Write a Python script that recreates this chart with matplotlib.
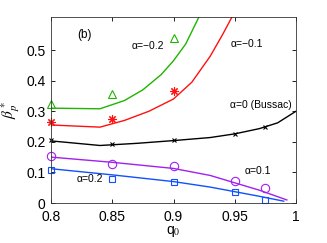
import matplotlib
matplotlib.use('Agg')
import matplotlib.pyplot as plt

# curves (solid lines)
q_green = [0.8, 0.84, 0.86, 0.875, 0.89, 0.90, 0.91, 0.921]
b_green = [0.31, 0.308, 0.335, 0.37, 0.42, 0.465, 0.52, 0.61]
q_red = [0.8, 0.84, 0.86, 0.88, 0.90, 0.915, 0.93, 0.94, 0.948]
b_red = [0.255, 0.248, 0.27, 0.30, 0.34, 0.395, 0.48, 0.55, 0.61]
q_black = [0.8, 0.84, 0.87, 0.9, 0.93, 0.95, 0.97, 0.985, 1.0]
b_black = [0.203, 0.188, 0.195, 0.204, 0.214, 0.226, 0.243, 0.262, 0.30]
q_purple = [0.8, 0.85, 0.9, 0.93, 0.95, 0.97, 0.9925]
b_purple = [0.15, 0.133, 0.113, 0.09, 0.066, 0.042, 0.01]
q_blue = [0.8, 0.85, 0.9, 0.93, 0.95, 0.97, 0.99]
b_blue = [0.112, 0.092, 0.07, 0.052, 0.037, 0.022, 0.006]

# markers
qm_green = [0.8, 0.85, 0.9]
bm_green = [0.325, 0.355, 0.54]
qm_red = [0.8, 0.85, 0.9]
bm_red = [0.266, 0.273, 0.366]
qm_black = [0.8, 0.85, 0.9, 0.95, 0.975]
bm_black = [0.206, 0.193, 0.206, 0.227, 0.248]
qm_purple = [0.8, 0.85, 0.9, 0.95, 0.975]
bm_purple = [0.153, 0.127, 0.121, 0.072, 0.049]
qm_blue = [0.8, 0.85, 0.9, 0.95, 0.975]
bm_blue = [0.108, 0.079, 0.068, 0.035, 0.01]

green = '#20b400'
red = '#ff1010'
purple = '#a020f0'
blue = '#1050ff'

plt.rcParams['font.family'] = ['Liberation Sans', 'DejaVu Sans']
plt.rcParams['mathtext.fontset'] = 'stix'
fig = plt.figure(figsize=(3.27, 2.43), dpi=100)
ax = fig.add_axes([51/327, 40/243, 245/327, 186/243])

ax.plot(q_green, b_green, '-', color=green, lw=1)
ax.plot(q_red, b_red, '-', color=red, lw=1)
ax.plot(q_black, b_black, '-', color='k', lw=1)
ax.plot(q_purple, b_purple, '-', color=purple, lw=1)
ax.plot(q_blue, b_blue, '-', color=blue, lw=1)

ax.plot(qm_green, bm_green, '^', mfc='none', mec=green, ms=6, mew=0.8, clip_on=False)
ax.plot(qm_red, bm_red, marker=(8, 2, 0), ls='none', color=red, ms=6, mew=0.8, clip_on=False)
ax.plot(qm_black, bm_black, 'x', color='k', ms=3.5, mew=0.8, clip_on=False)
ax.plot(qm_purple, bm_purple, 'o', mfc='none', mec=purple, ms=6, mew=0.8, clip_on=False)
ax.plot(qm_blue, bm_blue, 's', mfc='none', mec=blue, ms=4.5, mew=0.8, clip_on=False)

ax.set_xlim(0.8, 1.0)
ax.set_ylim(0, 0.608)
ax.set_xticks([0.8, 0.85, 0.9, 0.95, 1.0])
ax.set_xticklabels(['0.8', '0.85', '0.9', '0.95', '1'])
ax.set_yticks([0, 0.1, 0.2, 0.3, 0.4, 0.5])
ax.set_yticklabels(['0', '0.1', '0.2', '0.3', '0.4', '0.5'])
ax.tick_params(direction='in', top=True, right=True, labelsize=10, length=3, width=0.6)
ax.tick_params(axis='x', pad=5)
ax.tick_params(axis='y', pad=4)
for s in ax.spines.values():
    s.set_linewidth(0.6)
    s.set_color('#333333')

ax.set_xlabel('q$_0$', fontsize=10, labelpad=0)
ax.set_ylabel(r'$\beta_p^*$', fontsize=11, labelpad=3)

ax.text(0.8215, 0.54, '(b)', fontsize=8.5)
ax.text(0.866, 0.505, 'α=−0.2', fontsize=7.5)
ax.text(0.947, 0.51, 'α=−0.1', fontsize=7.5)
ax.text(0.946, 0.31, 'α=0 (Bussac)', fontsize=7.5)
ax.text(0.958, 0.095, 'α=0.1', fontsize=7.5)
ax.text(0.821, 0.068, 'α=0.2', fontsize=7.5)

fig.savefig('out.png', dpi=100)
